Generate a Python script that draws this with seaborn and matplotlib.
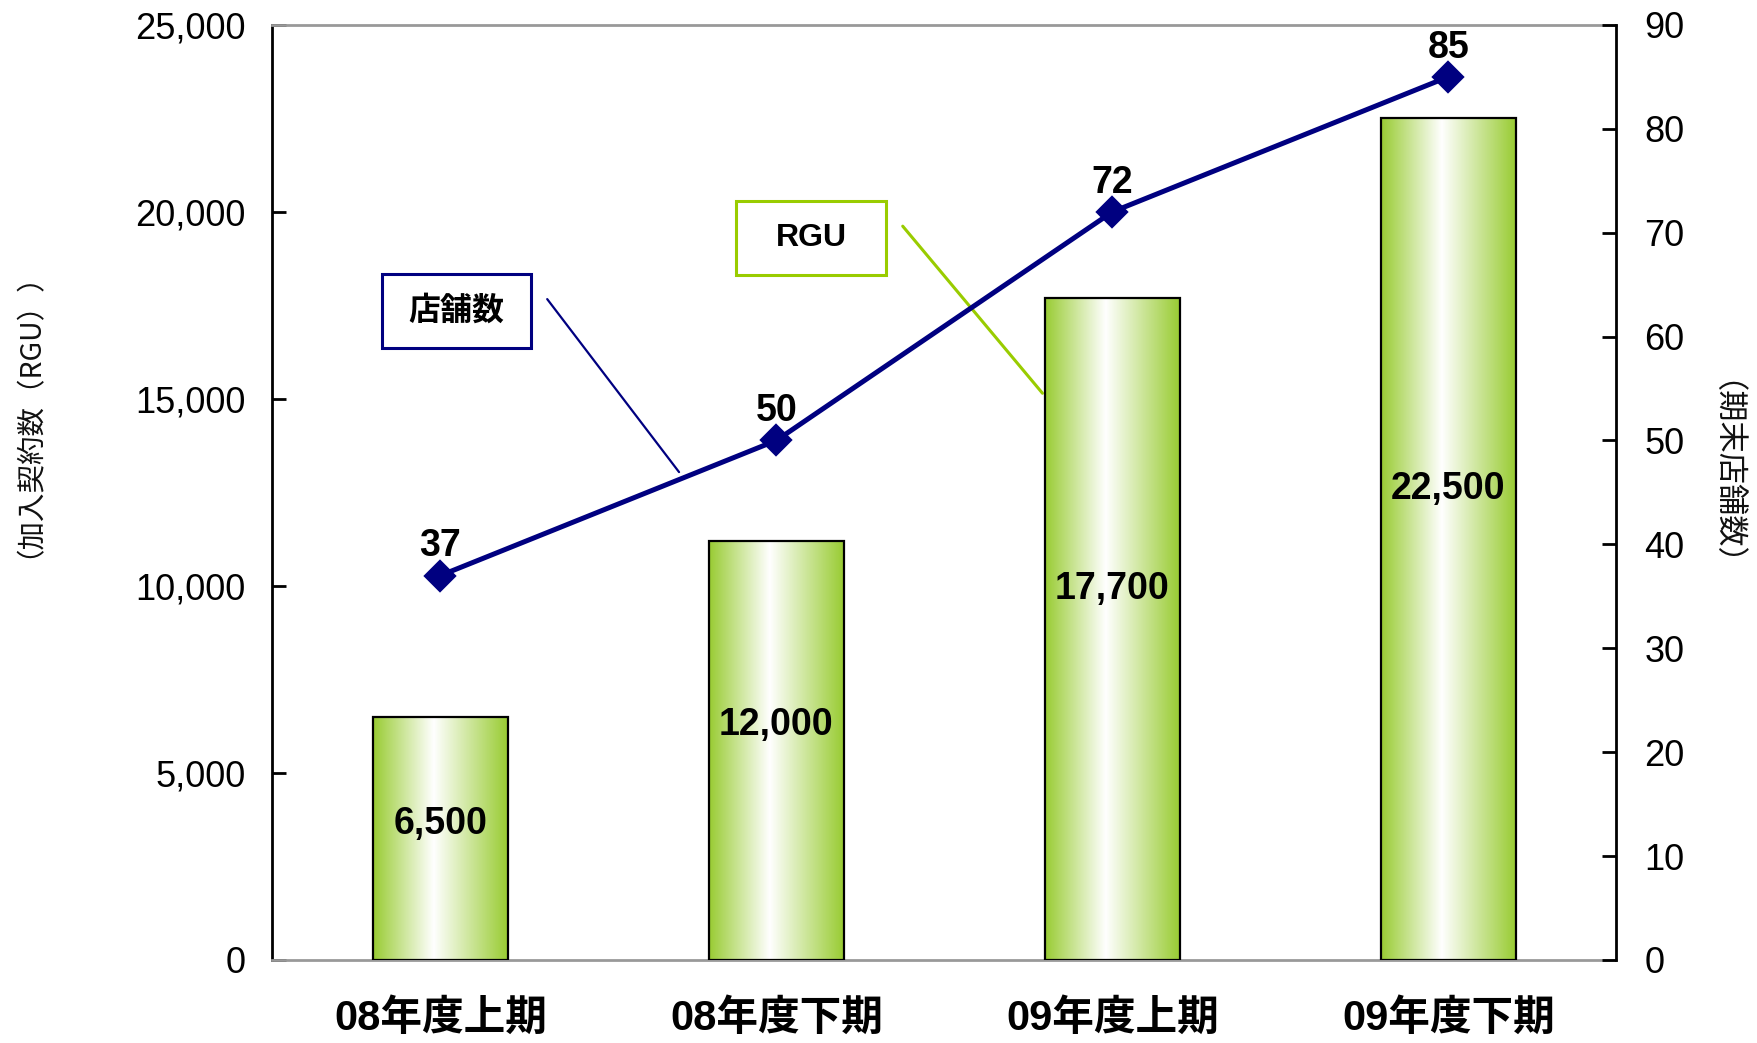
"""加入契約数（RGU）と期末店舗数の推移グラフ."""

import matplotlib

matplotlib.use("Agg")
import matplotlib.pyplot as plt
import numpy as np
import pandas as pd
import seaborn as sns
from matplotlib.colors import LinearSegmentedColormap
from matplotlib.patches import Rectangle

# データ
periods = ["08年度上期", "08年度下期", "09年度上期", "09年度下期"]
rgu = [6500, 11200, 17700, 22500]  # 棒の高さ
rgu_labels = ["6,500", "12,000", "17,700", "22,500"]
stores = [37, 50, 72, 85]
left_ticks = [0, 5000, 10000, 15000, 20000, 25000]
right_ticks = [0, 10, 20, 30, 40, 50, 60, 70, 80, 90]

NAVY = "#000080"
GREEN = "#99CC33"
BOX_GREEN = "#99CC00"
GREY = "#999999"
CJK = ["Noto Sans CJK JP", "DejaVu Sans"]

sns.set_theme(style="white")
plt.rcParams["font.family"] = ["Liberation Sans", "Noto Sans CJK JP"]
plt.rcParams["text.color"] = "black"

fig = plt.figure(figsize=(17.57, 10.43), dpi=100)
ax = fig.add_axes([0.155, 0.0796, 0.765, 0.8966])

df = pd.DataFrame({"period": periods, "rgu": rgu, "stores": stores})

# 棒グラフ（グラデーション塗り）
sns.barplot(data=df, x="period", y="rgu", ax=ax, width=0.4, color="white",
            edgecolor="black", linewidth=1.6)
grad = LinearSegmentedColormap.from_list(
    "bar_grad", [(0.0, GREEN), (0.45, "#FFFFFF"), (1.0, GREEN)])
for p in ax.patches:
    x0, w, h = p.get_x(), p.get_width(), p.get_height()
    p.set_facecolor("none")
    p.set_zorder(3)
    im = ax.imshow(np.linspace(0, 1, 256).reshape(1, -1), cmap=grad,
                   extent=[x0, x0 + w, 0, h], aspect="auto", zorder=2)
    im.set_clip_path(p)

for i, (h, lbl) in enumerate(zip(rgu, rgu_labels)):
    ax.text(i, h * 0.56, lbl, ha="center", va="center", fontsize=27,
            fontweight="bold", color="black", zorder=4)

ax.set_xlim(-0.5, len(periods) - 0.5)
ax.set_ylim(0, 25000)
ax.set_yticks(left_ticks)
ax.set_yticklabels([f"{v:,}" for v in left_ticks])
ax.tick_params(axis="y", direction="in", length=10, width=2, pad=19,
               labelsize=26, colors="black", left=True)
ax.tick_params(axis="x", length=0, pad=28, labelsize=30, labelcolor="black")
for t in ax.get_xticklabels():
    t.set_fontweight("bold")
ax.set_xlabel("")
ax.set_ylabel("")
ax.spines["top"].set_color(GREY)
ax.spines["top"].set_linewidth(2)
ax.spines["bottom"].set_color(GREY)
ax.spines["bottom"].set_linewidth(2)
ax.spines["left"].set_color("black")
ax.spines["left"].set_linewidth(2)
ax.spines["right"].set_visible(False)

# 折れ線（店舗数）
ax2 = ax.twinx()
sns.pointplot(data=df, x="period", y="stores", ax=ax2, color=NAVY,
              markers="D", markersize=14, linewidth=3.6, errorbar=None)
for i, v in enumerate(stores):
    ax2.annotate(str(v), (i, v), xytext=(0, 21), textcoords="offset points",
                 ha="center", va="center", fontsize=27, fontweight="bold",
                 color="black")
ax2.set_xlim(-0.5, len(periods) - 0.5)
ax2.set_ylim(0, 90)
ax2.set_yticks(right_ticks)
ax2.tick_params(axis="y", direction="in", length=10, width=2, pad=20,
                labelsize=26, colors="black", right=True)
ax2.set_ylabel("")
ax2.set_xlabel("")
for side in ["top", "bottom", "left"]:
    ax2.spines[side].set_visible(False)
ax2.spines["right"].set_color("black")
ax2.spines["right"].set_linewidth(2)

# 凡例ボックスと引き出し線
boxes = [
    ("店舗数", (0.137, 0.694), NAVY, [(0.2045, 0.7067), (0.3026, 0.5217)], 1.6),
    ("RGU", (0.401, 0.7724), BOX_GREEN, [(0.469, 0.7847), (0.573, 0.606)], 2.2),
]
bw, bh = 0.1115, 0.079
for text, (cx, cy), col, pts, lw in boxes:
    ax2.add_patch(Rectangle((cx - bw / 2, cy - bh / 2), bw, bh,
                            transform=ax2.transAxes, facecolor="white",
                            edgecolor=col, linewidth=2.2, zorder=5))
    ax2.text(cx, cy, text, transform=ax2.transAxes, ha="center", va="center",
             fontsize=23, fontweight="bold", color="black", zorder=6)
    ax2.plot([pts[0][0], pts[1][0]], [pts[0][1], pts[1][1]],
             transform=ax2.transAxes, color=col, linewidth=lw, zorder=1)

# 軸タイトル
fig.text(14 / 1757, 1 - 401 / 1043, "（加入契約数（RGU））", rotation=90,
         ha="center", va="center", fontsize=20.5, color="#111111", family=CJK)
fig.text(1708 / 1757, 1 - 489 / 1043, "（期末店舗数）", rotation=270,
         ha="center", va="center", fontsize=22.5, color="#111111", family=CJK)

fig.savefig("out.png", dpi=100)
plt.close(fig)
